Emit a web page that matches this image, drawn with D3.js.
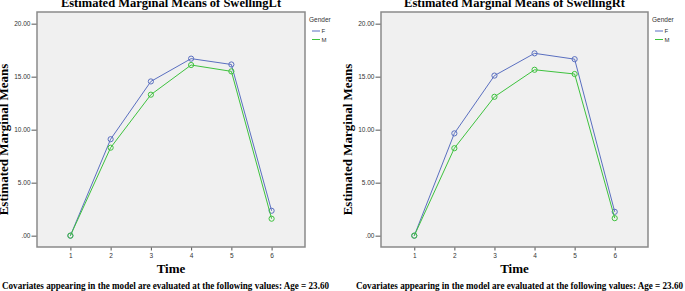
<!DOCTYPE html>
<html>
<head>
<meta charset="UTF-8" />
<script src="https://d3js.org/d3.v7.min.js"></script>
<style>
  body { margin: 0; background: #fff; }
  .tick text { font-family: "Liberation Sans", Arial, sans-serif; font-size: 6.5px; fill: #333; }
  .serif { font-family: "Liberation Serif", "Times New Roman", serif; font-weight: bold; fill: #000; }
</style>
</head>
<body>
<svg width="685" height="291"></svg>
<script>
// data
const times = [1, 2, 3, 4, 5, 6];
const yTicks = [0, 5, 10, 15, 20];
const genders = ["F", "M"];
const leftF = [0, 9.1, 14.55, 16.7, 16.15, 2.35];
const leftM = [0, 8.3, 13.3, 16.1, 15.5, 1.6];
const rightF = [0, 9.65, 15.1, 17.2, 16.65, 2.25];
const rightM = [0, 8.25, 13.1, 15.65, 15.25, 1.65];
const colors = { F: "#5a6fc0", M: "#3ec23e" };
const footer = "Covariates appearing in the model are evaluated at the following values: Age = 23.60";

const svg = d3.select("svg");

function panel(left, right, title, fVals, mVals, footX) {
  const top = 12, bottom = 247;
  const x = d3.scaleLinear().domain([0.17, 6.83]).range([left, right]);
  const y = d3.scaleLinear().domain([-1.07, 21.1]).range([bottom, top]);
  const g = svg.append("g");

  g.append("rect")
    .attr("x", left).attr("y", top)
    .attr("width", right - left).attr("height", bottom - top)
    .attr("fill", "#f0f0f0")
    .attr("stroke", "#8a8a8a").attr("stroke-width", 1.5);

  const ya = g.append("g").attr("transform", `translate(${left - 0.5},0)`)
    .call(d3.axisLeft(y).tickValues(yTicks).tickSize(5).tickPadding(1)
      .tickFormat(d => d === 0 ? ".00" : d3.format(".2f")(d)));
  ya.select(".domain").remove();
  ya.selectAll("line").attr("stroke", "#555");

  const xa = g.append("g").attr("transform", `translate(0,${bottom + 0.5})`)
    .call(d3.axisBottom(x).tickValues(times).tickSize(3).tickPadding(3).tickFormat(d3.format("d")));
  xa.select(".domain").remove();
  xa.selectAll("line").attr("stroke", "#555");

  const line = d3.line().x((d, i) => x(times[i])).y(d => y(d));
  [["F", fVals], ["M", mVals]].forEach(([k, vals]) => {
    g.append("path").datum(vals)
      .attr("d", line).attr("fill", "none")
      .attr("stroke", colors[k]).attr("stroke-width", 1);
    g.selectAll(null).data(vals).enter().append("circle")
      .attr("cx", (d, i) => x(times[i])).attr("cy", d => y(d))
      .attr("r", 2.6).attr("fill", "none")
      .attr("stroke", colors[k]).attr("stroke-width", 1);
  });

  // title (cut at the top edge, as in the source)
  g.append("text").attr("class", "serif")
    .attr("x", (left + right) / 2).attr("y", 7)
    .attr("text-anchor", "middle").attr("font-size", 12.5)
    .text(title);

  // axis titles
  g.append("text").attr("class", "serif")
    .attr("transform", `translate(${left - 29},${(top + bottom) / 2 + 10}) rotate(-90)`)
    .attr("text-anchor", "middle").attr("font-size", 13)
    .text("Estimated Marginal Means");
  g.append("text").attr("class", "serif")
    .attr("x", (left + right) / 2).attr("y", 273)
    .attr("text-anchor", "middle").attr("font-size", 13)
    .text("Time");

  // legend
  const lg = g.append("g").attr("transform", `translate(${right + 4},0)`);
  lg.append("text").attr("x", 0).attr("y", 22)
    .attr("font-family", "Liberation Sans, Arial, sans-serif")
    .attr("font-size", 6.5).attr("fill", "#333").text("Gender");
  genders.forEach((k, i) => {
    const yy = 31 + i * 8.5;
    lg.append("line").attr("x1", 3).attr("x2", 11).attr("y1", yy).attr("y2", yy)
      .attr("stroke", colors[k]).attr("stroke-width", 1);
    lg.append("text").attr("x", 12.5).attr("y", yy + 2.3)
      .attr("font-family", "Liberation Sans, Arial, sans-serif")
      .attr("font-size", 6).attr("fill", "#333").text(k);
  });

  // footer
  g.append("text").attr("class", "serif")
    .attr("x", footX).attr("y", 289)
    .attr("font-size", 9.5)
    .attr("textLength", 327).attr("lengthAdjust", "spacingAndGlyphs")
    .text(footer);
}

panel(37, 305, "Estimated Marginal Means of SwellingLt", leftF, leftM, 2);
panel(381, 648, "Estimated Marginal Means of SwellingRt", rightF, rightM, 356);
</script>
</body>
</html>
